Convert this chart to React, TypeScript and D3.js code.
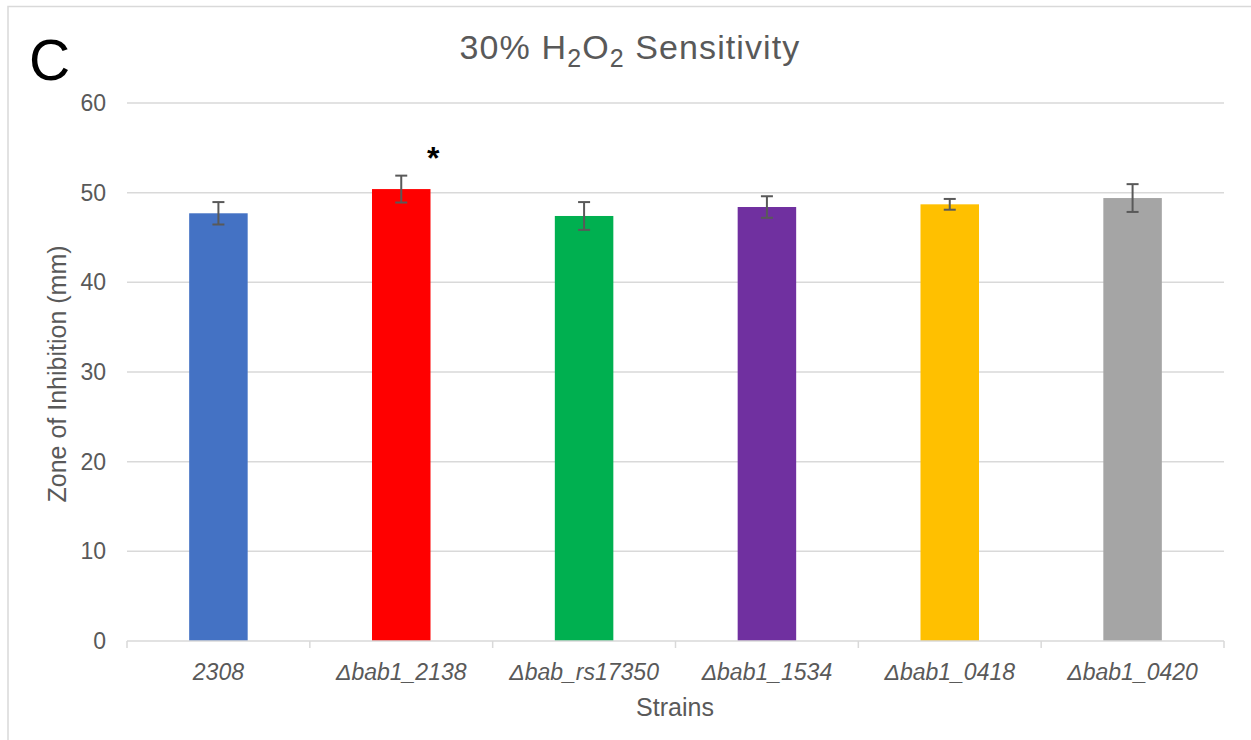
import React from "react";
import * as d3 from "d3";

const categories = ["2308", "Δbab1_2138", "Δbab_rs17350", "Δbab1_1534", "Δbab1_0418", "Δbab1_0420"];
const means = [47.7, 50.4, 47.4, 48.4, 48.7, 49.4];
const errors = [1.25, 1.5, 1.55, 1.2, 0.6, 1.55];
const colors = ["#4472C4", "#FF0000", "#00B050", "#7030A0", "#FFC000", "#A5A5A5"];
const significant = [false, true, false, false, false, false];
const yTicks = [0, 10, 20, 30, 40, 50, 60];

const W = 1251;
const H = 740;
const left = 127;
const right = 1224;
const top = 103;
const bottom = 641;
const textColor = "#595959";
const font = "'Liberation Sans', Arial, sans-serif";

export default function App() {
  const x = d3.scaleBand<string>().domain(categories).range([left, right]).paddingInner(0.68).paddingOuter(0.34);
  const y = d3.scaleLinear().domain([0, 60]).range([bottom, top]);
  const step = x.step();
  const boundaries = d3.range(categories.length + 1).map((i) => left + i * step);

  return (
    <svg width={W} height={H} style={{ position: "absolute", left: 0, top: 0, background: "#fff" }} fontFamily={font}>
      <rect x={0} y={0} width={W} height={H} fill="#fff" />
      <rect x={8} y={6.5} width={W + 50} height={H + 50} fill="none" stroke="#d9d9d9" strokeWidth={1.5} />
      <text x={29} y={80} fontSize={57} fill="#000">C</text>
      <text x={630} y={59} fontSize={34} letterSpacing={1.1} fill={textColor} textAnchor="middle">
        30% H<tspan fontSize={25} dy={8}>2</tspan>
        <tspan dy={-8}>O</tspan>
        <tspan fontSize={25} dy={8}>2</tspan>
        <tspan dy={-8}> Sensitivity</tspan>
      </text>
      {yTicks.filter((t) => t > 0).map((t) => (
        <line key={t} x1={left} x2={right} y1={y(t)} y2={y(t)} stroke="#d9d9d9" strokeWidth={1.5} />
      ))}
      {yTicks.map((t) => (
        <text key={"l" + t} x={106} y={y(t) + 8} fontSize={23} fill={textColor} textAnchor="end">{t}</text>
      ))}
      {categories.map((c, i) => (
        <rect key={c} x={x(c)} y={y(means[i])} width={x.bandwidth()} height={y(0) - y(means[i])} fill={colors[i]} />
      ))}
      <line x1={left} x2={right} y1={bottom} y2={bottom} stroke="#d9d9d9" strokeWidth={1.5} />
      {boundaries.map((b, i) => (
        <line key={"t" + i} x1={b} x2={b} y1={bottom} y2={bottom + 7} stroke="#d9d9d9" strokeWidth={1.5} />
      ))}
      {categories.map((c, i) => {
        const cx = (x(c) as number) + x.bandwidth() / 2;
        const y1 = y(means[i] + errors[i]);
        const y2 = y(means[i] - errors[i]);
        return (
          <g key={"e" + c} stroke={textColor} strokeWidth={2}>
            <line x1={cx} x2={cx} y1={y1} y2={y2} />
            <line x1={cx - 6} x2={cx + 6} y1={y1} y2={y1} />
            <line x1={cx - 6} x2={cx + 6} y1={y2} y2={y2} />
          </g>
        );
      })}
      {categories.map((c, i) =>
        significant[i] ? (
          <text key={"s" + c} x={(x(c) as number) + x.bandwidth() / 2 + 32} y={y(means[i] + errors[i]) - 7} fontSize={32} fontWeight="bold" fill="#000" textAnchor="middle">*</text>
        ) : null
      )}
      {categories.map((c) => (
        <text key={"x" + c} x={(x(c) as number) + x.bandwidth() / 2} y={680} fontSize={23} fontStyle="italic" fill={textColor} textAnchor="middle">{c}</text>
      ))}
      <text x={675} y={716} fontSize={25} fill={textColor} textAnchor="middle">Strains</text>
      <text transform={`translate(66,374) rotate(-90)`} fontSize={25} fill={textColor} textAnchor="middle">Zone of Inhibition (mm)</text>
    </svg>
  );
}
